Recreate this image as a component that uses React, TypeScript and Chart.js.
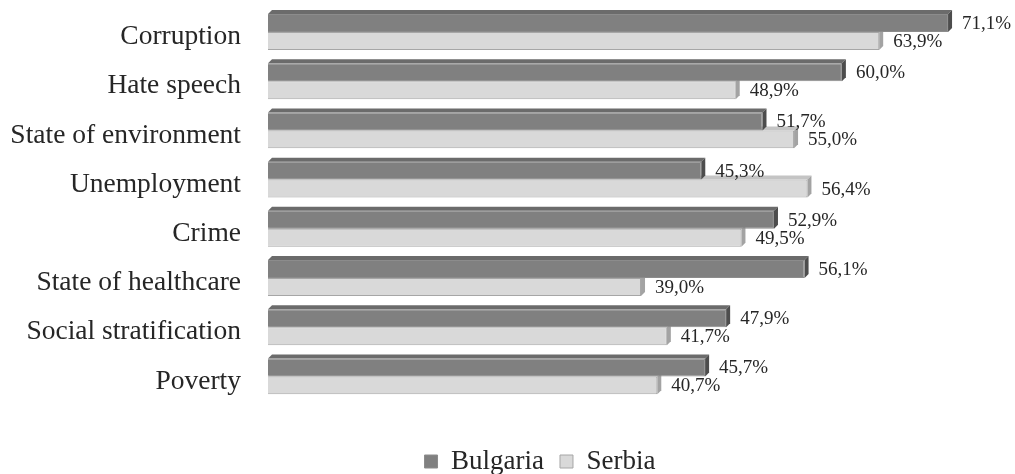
import React, { useEffect, useRef } from 'react';
import { Chart, registerables } from 'chart.js';

Chart.register(...registerables);

const categories = [
  'Corruption',
  'Hate speech',
  'State of environment',
  'Unemployment',
  'Crime',
  'State of healthcare',
  'Social stratification',
  'Poverty',
];
const seriesNames = ['Bulgaria', 'Serbia'];
const bulgaria = [71.1, 60.0, 51.7, 45.3, 52.9, 56.1, 47.9, 45.7];
const serbia = [63.9, 48.9, 55.0, 56.4, 49.5, 39.0, 41.7, 40.7];
const axisMin = 0;
const axisMax = 78.1;

const FONT = "'Liberation Serif', 'Times New Roman', serif";
const TEXT = '#262626';
const DEPTH = 4;
const frontColors = ['#808080', '#d9d9d9'];
const borderColors = ['#8c8c8c', '#a6a6a6'];
const topColors = ['#6b6b6b', '#c4c4c4'];
const sideColors = ['#4d4d4d', '#a3a3a3'];

const fmt = (v: number) => v.toFixed(1).replace('.', ',') + '%';

const bar3d = {
  id: 'bar3d',
  afterDatasetDraw(chart: any, args: any) {
    const ctx = chart.ctx;
    const i = args.index;
    args.meta.data.forEach((el: any) => {
      const { x, y, base, height } = el.getProps(['x', 'y', 'base', 'height'], true);
      const top = y - height / 2;
      const bottom = y + height / 2;
      const x0 = base;
      const x1 = x;
      ctx.save();
      ctx.fillStyle = topColors[i];
      ctx.beginPath();
      ctx.moveTo(x0, top);
      ctx.lineTo(x0 + DEPTH, top - DEPTH);
      ctx.lineTo(x1 + DEPTH, top - DEPTH);
      ctx.lineTo(x1, top);
      ctx.closePath();
      ctx.fill();
      ctx.fillStyle = sideColors[i];
      ctx.beginPath();
      ctx.moveTo(x1, top);
      ctx.lineTo(x1 + DEPTH, top - DEPTH);
      ctx.lineTo(x1 + DEPTH, bottom - DEPTH);
      ctx.lineTo(x1, bottom);
      ctx.closePath();
      ctx.fill();
      ctx.restore();
    });
  },
};

const valueLabels = {
  id: 'valueLabels',
  afterDatasetsDraw(chart: any) {
    const ctx = chart.ctx;
    ctx.save();
    ctx.font = `19px ${FONT}`;
    ctx.fillStyle = TEXT;
    ctx.textAlign = 'left';
    ctx.textBaseline = 'middle';
    chart.data.datasets.forEach((ds: any, i: number) => {
      const meta = chart.getDatasetMeta(i);
      meta.data.forEach((el: any, j: number) => {
        ctx.fillText(fmt(ds.data[j]), el.x + 14, el.y + 1);
      });
    });
    ctx.restore();
  },
};

export default function App() {
  const canvasRef = useRef<HTMLCanvasElement | null>(null);

  useEffect(() => {
    if (!canvasRef.current) return;
    const chart = new Chart(canvasRef.current, {
      type: 'bar',
      data: {
        labels: categories,
        datasets: [
          {
            label: seriesNames[0],
            data: bulgaria,
            backgroundColor: frontColors[0],
            borderColor: borderColors[0],
            borderWidth: 1,
            categoryPercentage: 0.73,
            barPercentage: 1,
          },
          {
            label: seriesNames[1],
            data: serbia,
            backgroundColor: frontColors[1],
            borderColor: borderColors[1],
            borderWidth: 1,
            categoryPercentage: 0.73,
            barPercentage: 1,
          },
        ],
      },
      options: {
        indexAxis: 'y',
        animation: false,
        responsive: true,
        maintainAspectRatio: false,
        layout: { padding: { left: 0, right: -65, top: 7.4, bottom: 0 } },
        scales: {
          x: {
            min: axisMin,
            max: axisMax,
            ticks: { display: false },
            grid: { display: false, drawTicks: false },
            border: { display: false },
            afterFit(s: any) {
              s.height = 31;
            },
          },
          y: {
            ticks: {
              font: { family: FONT, size: 27.5 },
              color: TEXT,
              padding: 27,
              labelOffset: 5,
            },
            grid: { display: false, drawTicks: false },
            border: { display: false },
            afterFit(s: any) {
              s.width = 268;
              s.paddingTop = 0;
              s.paddingBottom = 0;
            },
          },
        },
        plugins: {
          legend: {
            position: 'bottom',
            maxHeight: 42,
            labels: {
              font: { family: FONT, size: 27 },
              color: TEXT,
              boxWidth: 13,
              boxHeight: 13,
              padding: 16,
            },
          },
          tooltip: { enabled: false },
        },
      } as any,
      plugins: [bar3d, valueLabels],
    });
    return () => chart.destroy();
  }, []);

  return (
    <div style={{ position: 'fixed', left: 0, top: 0, width: '1015px', height: '474px', background: '#fff' }}>
      <canvas ref={canvasRef} />
    </div>
  );
}
